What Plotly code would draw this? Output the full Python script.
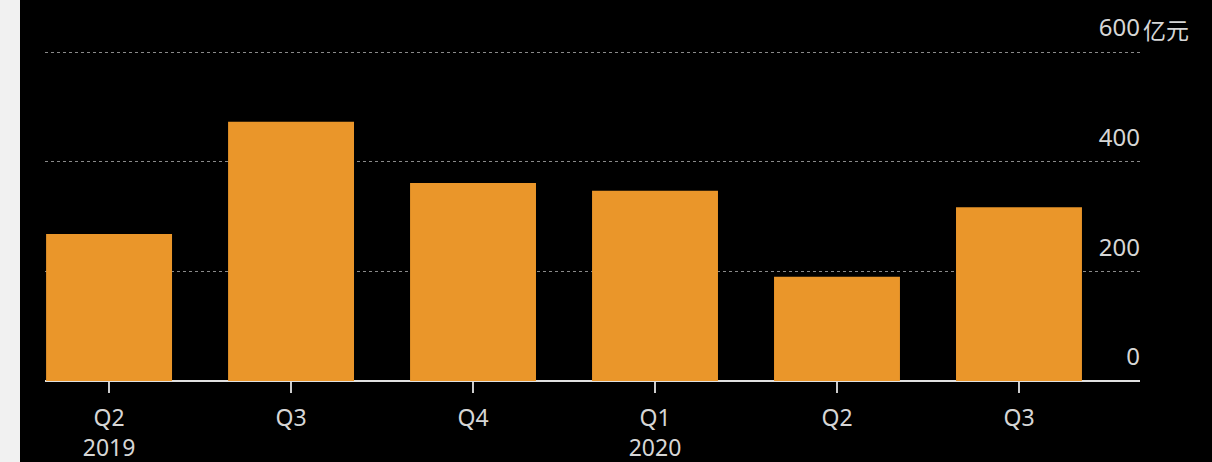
import plotly.graph_objects as go

quarters = ["Q2 2019", "Q3 2019", "Q4 2019", "Q1 2020", "Q2 2020", "Q3 2020"]
tick_labels = ["Q2<br>2019", "Q3", "Q4", "Q1<br>2020", "Q2", "Q3"]
values = [268, 473, 361, 347, 190, 317]
y_ticks = [0, 200, 400, 600]
y_tick_text = ["0", "200", "400", "600"]
unit = "亿元"

W, H = 1212, 462
L, R, T, B = 45, 72, 48, 81
plot_w = W - L - R
plot_h = H - T - B

font_family = "Noto Sans, Noto Sans CJK SC, sans-serif"
text_color = "#d6d6d6"

fig = go.Figure(go.Bar(
    x=quarters,
    y=values,
    marker=dict(color="#EA962A", line=dict(width=0)),
    width=0.692,
    hoverinfo="skip",
))

fig.update_layout(
    width=W, height=H,
    margin=dict(l=L, r=R, t=T, b=B, autoexpand=False),
    paper_bgcolor="#000000",
    plot_bgcolor="#000000",
    showlegend=False,
    font=dict(family=font_family, color=text_color, size=23),
    bargap=0.308,
)

fig.update_xaxes(
    type="category",
    range=[-0.352, 5.665],
    tickvals=quarters,
    ticktext=tick_labels,
    ticks="outside",
    ticklen=11,
    tickwidth=1.5,
    tickcolor="#cccccc",
    ticklabelstandoff=5,
    showgrid=False,
    showline=False,
    zeroline=False,
    automargin=False,
    tickfont=dict(size=23, color=text_color),
)

fig.update_yaxes(
    range=[0, 600 * 333 / 329],
    side="right",
    tickvals=y_ticks,
    ticktext=y_tick_text,
    ticklabelposition="inside",
    ticklabeloverflow="allow",
    ticklabelshift=-24,
    ticklabelstandoff=-3,
    ticks="",
    showgrid=True,
    gridcolor="#8a8a8a",
    griddash="dot",
    gridwidth=1,
    zeroline=True,
    zerolinecolor="#e0e0e0",
    zerolinewidth=2,
    showline=False,
    automargin=False,
    tickfont=dict(size=24, color=text_color),
)

fig.add_annotation(
    x=1.0, xref="paper", y=600, yref="y",
    text=unit, showarrow=False,
    xanchor="left", yanchor="middle",
    yshift=23, xshift=1,
    font=dict(size=23, color=text_color, family="Noto Sans CJK SC, sans-serif"),
)

# light strip at the far left edge
fig.add_shape(
    type="rect", xref="paper", yref="paper",
    x0=-L / plot_w, x1=(20 - L) / plot_w,
    y0=-B / plot_h, y1=1 + T / plot_h,
    fillcolor="#f1f1f1", line=dict(width=0), layer="above",
)

fig.write_html(
    "out.html",
    config={"displayModeBar": False},
    post_script="document.body.style.margin='0';document.body.style.background='#000';",
)
